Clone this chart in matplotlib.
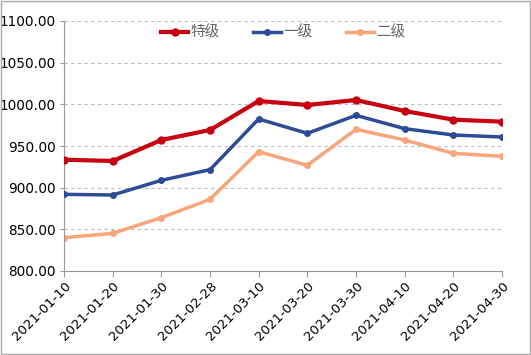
import matplotlib.pyplot as plt
from matplotlib.patches import Rectangle

plt.rcParams['font.family'] = ['Noto Sans CJK SC', 'DejaVu Sans']

# dates on the x axis
dates = ['2021-01-10', '2021-01-20', '2021-01-30', '2021-02-28', '2021-03-10',
         '2021-03-20', '2021-03-30', '2021-04-10', '2021-04-20', '2021-04-30']

# price series
special = [933.6, 932.0, 957.2, 969.2, 1004.0, 999.2, 1005.2, 992.0, 981.6, 979.2]
grade1 = [892.0, 891.2, 908.8, 921.6, 982.4, 965.2, 986.8, 970.8, 963.2, 960.8]
grade2 = [840.0, 845.2, 864.0, 886.0, 943.2, 926.8, 970.0, 957.2, 941.2, 937.6]

fig = plt.figure(figsize=(5.31, 3.55), dpi=100)
ax = fig.add_axes([64 / 531, 1 - 271 / 355, (502 - 64) / 531, 250 / 355])

pos = list(range(len(dates)))
ax.plot(pos, special, color='#C8000F', lw=3, marker='o', ms=5, label='特级', zorder=4)
ax.plot(pos, grade1, color='#2E4C96', lw=2.5, marker='o', ms=4, label='一级', zorder=3)
ax.plot(pos, grade2, color='#F9A57C', lw=2.5, marker='o', ms=4, label='二级', zorder=2)

ax.set_xlim(0, len(dates) - 1)
ax.set_ylim(800, 1100)
ax.set_yticks([800, 850, 900, 950, 1000, 1050, 1100])
ax.set_yticklabels(['%.2f' % v for v in ax.get_yticks()], fontsize=9.8, family='DejaVu Sans')
ax.set_xticks(pos)
ax.set_xticklabels(dates, rotation=45, ha='right', rotation_mode='anchor', fontsize=9.5,
                   family='DejaVu Sans')

ax.grid(axis='y', color='#BBBBBB', linestyle=(0, (3, 3)), lw=0.8)
for s in ['top', 'right']:
    ax.spines[s].set_visible(False)
for s in ['left', 'bottom']:
    ax.spines[s].set_color('#999999')
ax.tick_params(axis='both', color='#999999', length=4)
ax.tick_params(axis='x', pad=2)
ax.tick_params(axis='y', length=3, pad=3)

leg = ax.legend(loc='upper center', ncol=3, frameon=False, bbox_to_anchor=(0.5, 1.035),
                fontsize=10.5, handlelength=1.9, columnspacing=2.3, handletextpad=0.15,
                labelcolor='#666666')

fig.patches.append(Rectangle((0.001, 0.002), 0.997, 0.995, transform=fig.transFigure,
                             fill=False, edgecolor='#AAAAAA', lw=1))

fig.savefig('out.png', dpi=100)
